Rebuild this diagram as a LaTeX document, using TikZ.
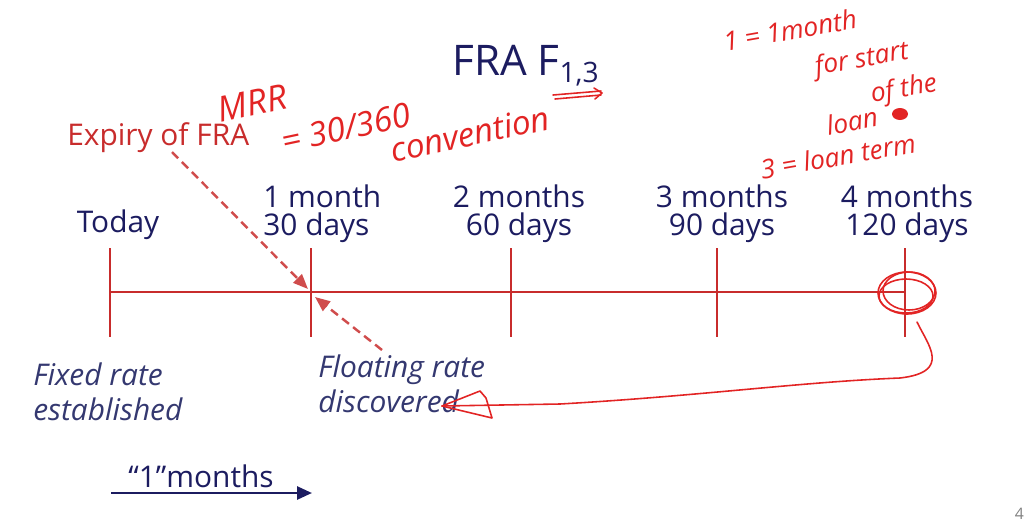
\documentclass[tikz,border=0pt]{standalone}
\usepackage{fontspec}
\setmainfont{Open Sans}
\usetikzlibrary{arrows.meta,positioning,calc}
\definecolor{franavy}{RGB}{28,28,96}
\definecolor{frared}{RGB}{200,44,44}
\definecolor{fraink}{RGB}{226,36,36}
\definecolor{fraslate}{RGB}{52,56,112}

\begin{document}
\begin{tikzpicture}[x=0.02cm, y=-0.02cm,
  lbl/.style={text=franavy, font=\fontsize{17}{16}\selectfont, align=center, inner sep=0pt},
  tick/.style={draw=frared, line width=1.2pt},
  note/.style={text=fraslate, font=\fontsize{17}{20}\selectfont\itshape, align=left, inner sep=0pt, anchor=north west},
  hand/.style={text=fraink, font=\fontsize{15}{15}\selectfont\itshape, inner sep=0pt},
  ink/.style={draw=fraink, line width=0.9pt, line cap=round, line join=round},
  dasharr/.style={draw=frared!85, dash pattern=on 5pt off 3pt, line width=1.4pt, -{Triangle[length=3mm,width=2.4mm]}}]
\useasboundingbox (0,0) rectangle (1032,522);
% title
\node[text=franavy, font=\fontsize{24}{28}\selectfont, anchor=base west, inner sep=0pt] (title) at (452,75)
  {FRA F\raisebox{-0.35ex}{\fontsize{16}{16}\selectfont 1,3}};
% timeline
\coordinate (d0) at (110,292);
\coordinate (d1) at (311,292);
\coordinate (d2) at (511,292);
\coordinate (d3) at (717,292);
\coordinate (d4) at (905,292);
\draw[tick] (d0) -- (d4);
\draw[tick] (110,248) -- (110,337);
\draw[tick] (311,248) -- (311,337);
\draw[tick] (511,248) -- (511,337);
\draw[tick] (717,248) -- (717,337);
\draw[tick] (905,248) -- (905,337);
\node[lbl, anchor=base] (today) at (118,232) {Today};
\node[lbl, anchor=south west, align=left] (m1) at (263,243) {1 month\\30 days};
\node[lbl, anchor=south] (m2) at (519,243) {2 months\\60 days};
\node[lbl, anchor=south] (m3) at (722,243) {3 months\\90 days};
\node[lbl, anchor=south] (m4) at (907,243) {4 months\\120 days};
% expiry and discovery
\node[lbl, text=frared, anchor=base west] (expiry) at (67,145) {Expiry of FRA};
\coordinate (expfoot) at (172,152);
\draw[dasharr] (expfoot) -- ($(d1)+(-3,-3)$);
\node[note] (fixed) at (33,362) {Fixed rate\\established};
\node[note] (floating) at (318,354) {Floating rate\\discovered};
\coordinate (floattop) at (382,350);
\draw[dasharr] (floattop) -- ($(d1)+(4,5)$);
% period arrow
\node[lbl, anchor=base west] (period) at (128,487) {“1”months};
\coordinate (pstart) at (111,493);
\coordinate (pend) at (312,493);
\draw[draw=franavy, line width=1.5pt, -{Triangle[length=3mm,width=2.6mm]}] (pstart) -- (pend);
% handwritten notes
\node[hand, rotate=12, font=\fontsize{20}{20}\selectfont\itshape] (mrr) at (252,103) {MRR};
\node[hand, rotate=12, font=\fontsize{19}{19}\selectfont\itshape] (conv) at (346,128) {= 30/360};
\node[hand, rotate=12, font=\fontsize{19}{19}\selectfont\itshape] (convword) at (470,134) {convention};
\draw[ink] (553,95) -- (601,91);
\draw[ink] (555,99) -- (601,95);
\draw[ink] (594,88) -- (602,93) -- (595,99);
\node[hand, rotate=10] (one) at (790,30) {1 = 1month};
\node[hand, rotate=10] (forstart) at (862,60) {for start};
\node[hand, rotate=10] (ofthe) at (904,90) {of the};
\node[hand, rotate=10] (loan) at (852,121) {loan};
\fill[fraink] (900,114) ellipse (8 and 6);
\node[hand, rotate=10] (three) at (838,156) {3 = loan term};
% circle and hook back to discovery
\coordinate (circ) at (907,293);
\draw[ink] (circ) ellipse (29 and 21);
\draw[ink] ($(circ)+(2,-2)$) ellipse (26 and 19);
\draw[ink] ($(circ)+(-1,3)$) ellipse (27 and 17);
\coordinate (hookA) at (917,322);
\coordinate (hookB) at (442,406);
\draw[ink] (hookA) .. controls (928,345) and (952,372) .. (900,378)
  .. controls (800,382) and (700,396) .. (560,404) -- (hookB);
\draw[ink] (hookB) -- (480,391) -- (486,398) -- (492,418) -- cycle;
% page number
\node[text=gray, font=\fontsize{9}{9}\selectfont, anchor=base east] (pg) at (1030,519) {4};
\end{tikzpicture}
\end{document}
